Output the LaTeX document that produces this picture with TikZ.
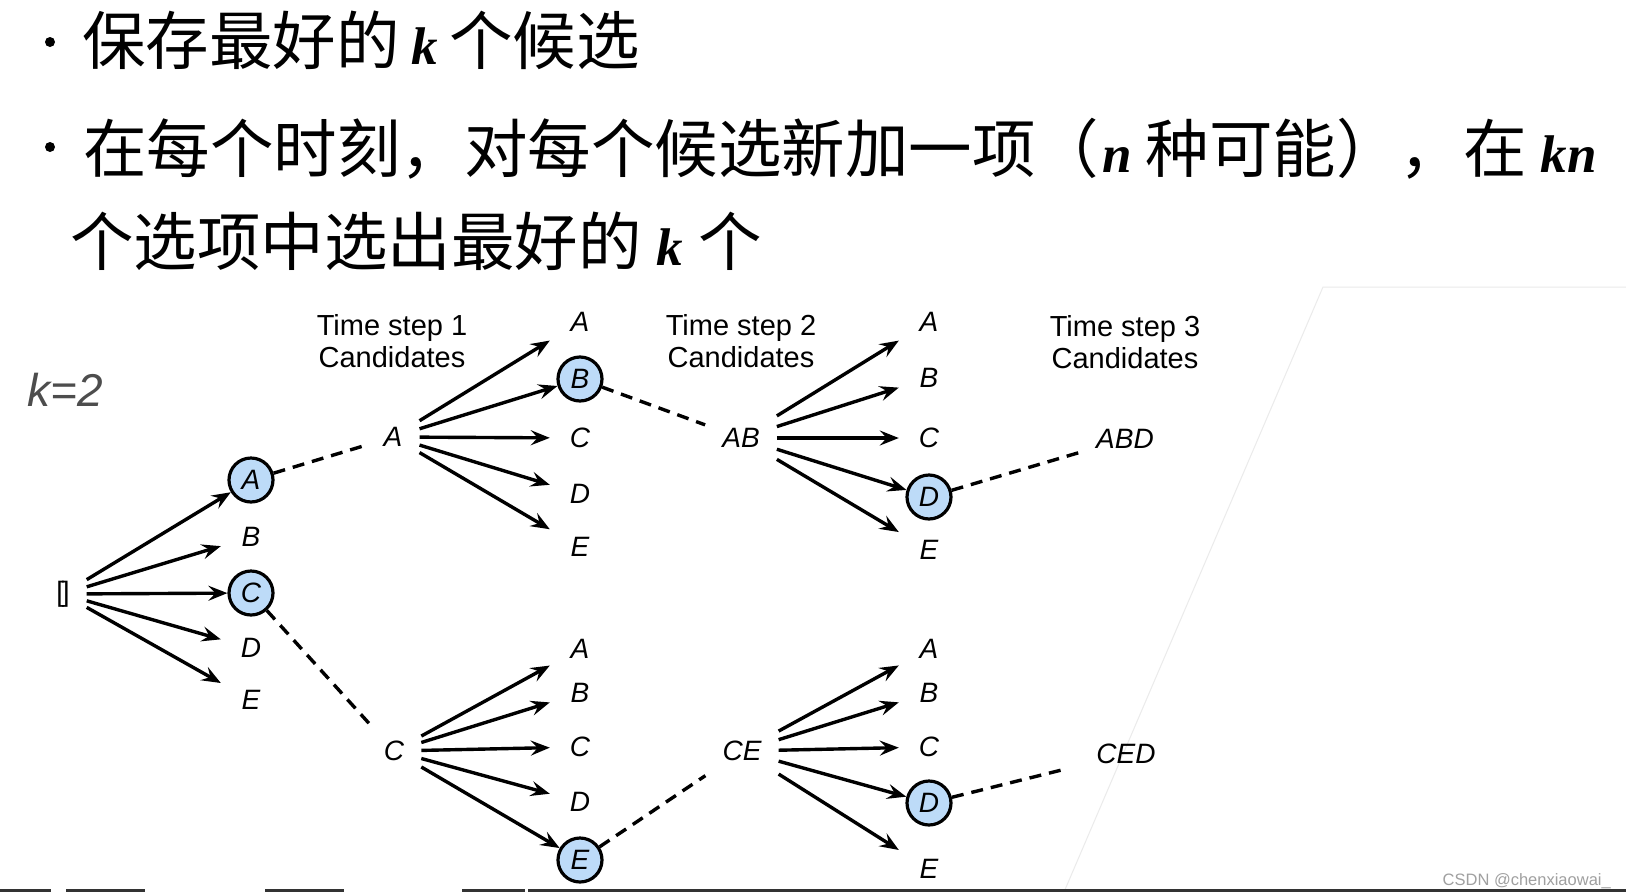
\documentclass[tikz,border=0pt]{standalone}
\usepackage{fontspec}
\newfontfamily\cjk{Noto Sans CJK SC}
\newfontfamily\arial{Liberation Sans}
\newfontfamily\timesbi{Liberation Serif}
\usetikzlibrary{arrows.meta}
\definecolor{selblue}{RGB}{189,219,248}
\definecolor{kgray}{RGB}{77,77,77}
\definecolor{wmgray}{RGB}{160,160,160}
\newcommand{\bik}[1]{{\timesbi\bfseries\itshape\fontsize{53}{53}\selectfont #1}}
\begin{document}
\begin{tikzpicture}[x=1pt,y=-1pt,
  lbl/.style={font=\arial\itshape\fontsize{28}{28}\selectfont, inner sep=0pt},
  par/.style={lbl, inner xsep=17pt, minimum height=50pt},
  cand/.style={lbl, minimum width=60pt, minimum height=50pt},
  sel/.style={lbl, circle, draw, line width=3.2pt, fill=selblue, minimum size=44pt},
  arr/.style={line width=3.4pt, -{Stealth[length=19pt,width=15pt,inset=7pt]}},
  dsh/.style={line width=3.4pt, dash pattern=on 12pt off 8pt},
  head/.style={anchor=base west, inner sep=0pt, font=\cjk\fontsize{63.5}{63.5}\selectfont},
  tstep/.style={font=\arial\fontsize{29}{32.5}\selectfont, align=center, inner sep=0pt},
]
\useasboundingbox (0,0) rectangle (1626,892);
\fill[white] (0,0) rectangle (1626,892);

% faint background frame
\draw[black!8, line width=1pt] (1626,287) -- (1323,287) -- (1064,892);

% headline text
\fill (50,42) circle (5);
\fill (50,147) circle (5);
\node[head] (h1) at (82,64) {保存最好的\hspace{12pt}\bik{k}\hspace{11pt}个候选};
\node[head] (h2) at (83,172) {在每个时刻，对每个候选新加一项（\hspace{3pt}\bik{n}\hspace{14pt}种可能），在\hspace{14pt}\bik{kn}};
\node[head] (h3) at (70,265) {个选项中选出最好的\hspace{15pt}\bik{k}\hspace{15pt}个};

% k=2
\node[font=\arial\itshape\fontsize{46}{46}\selectfont, text=kgray, inner sep=0pt] (kk) at (65,390) {k=2};

% time step labels
\node[tstep] (t1) at (392,341) {Time step 1\\Candidates};
\node[tstep] (t2) at (741,341) {Time step 2\\Candidates};
\node[tstep] (t3) at (1125,342) {Time step 3\\Candidates};

% root
\node[par, font=\arial\fontsize{28}{28}\selectfont] (r) at (63,594) {[\kern-2.5pt]};

% level 1
\node[sel]  (a1) at (251,480) {A};
\node[cand] (b1) at (251,537) {B};
\node[sel]  (c1) at (251,593) {C};
\node[cand] (d1) at (251,648) {D};
\node[cand] (e1) at (251,700) {E};

% parents
\node[par] (pa) at (393,437) {A};
\node[par] (pc) at (394,751) {C};

% level 2 upper
\node[cand] (ua2) at (580,322) {A};
\node[sel]  (ub2) at (580,379) {B};
\node[cand] (uc2) at (580,438) {C};
\node[cand] (ud2) at (580,494) {D};
\node[cand] (ue2) at (580,547) {E};
% level 2 lower
\node[cand] (la2) at (580,649) {A};
\node[cand] (lb2) at (580,693) {B};
\node[cand] (lc2) at (580,747) {C};
\node[cand] (ld2) at (580,802) {D};
\node[sel]  (le2) at (580,860) {E};

\node[par] (pab) at (741,438) {AB};
\node[par] (pce) at (742,751) {CE};

% level 3 upper
\node[cand] (ua3) at (929,322) {A};
\node[cand] (ub3) at (929,378) {B};
\node[cand] (uc3) at (929,438) {C};
\node[sel]  (ud3) at (929,497) {D};
\node[cand] (ue3) at (929,550) {E};
% level 3 lower
\node[cand] (la3) at (929,649) {A};
\node[cand] (lb3) at (929,693) {B};
\node[cand] (lc3) at (929,747) {C};
\node[sel]  (ld3) at (929,803) {D};
\node[cand] (le3) at (929,869) {E};

\node[par] (abd) at (1125,439) {ABD};
\node[par] (ced) at (1126,754) {CED};

% arrows
\foreach \t in {a1,b1,c1,d1,e1} \draw[arr] (r) -- (\t);
\foreach \t in {ua2,ub2,uc2,ud2,ue2} \draw[arr] (pa) -- (\t);
\foreach \t in {la2,lb2,lc2,ld2,le2} \draw[arr] (pc) -- (\t);
\foreach \t in {ua3,ub3,uc3,ud3,ue3} \draw[arr] (pab) -- (\t);
\foreach \t in {la3,lb3,lc3,ld3,le3} \draw[arr] (pce) -- (\t);

% dashed selections
\draw[dsh] (a1) -- (pa);
\draw[dsh] (c1) -- (pc);
\draw[dsh] (ub2) -- (pab);
\draw[dsh] (le2) -- (pce);
\draw[dsh] (ud3) -- (abd);
\draw[dsh, shorten >=12pt] (ld3) -- (ced);

% watermark
\node[anchor=base east, inner sep=0pt, font=\arial\fontsize{16.5}{16.5}\selectfont, text=wmgray] (wm) at (1611,885) {CSDN @chenxiaowai\_};

% bottom edge strip
\draw[black!80, line width=2.5pt] (0,890.5) -- (51,890.5) (66,890.5) -- (145,890.5) (265,890.5) -- (344,890.5) (462,890.5) -- (525,890.5) (528,890.5) -- (1626,890.5);
\end{tikzpicture}
\end{document}
